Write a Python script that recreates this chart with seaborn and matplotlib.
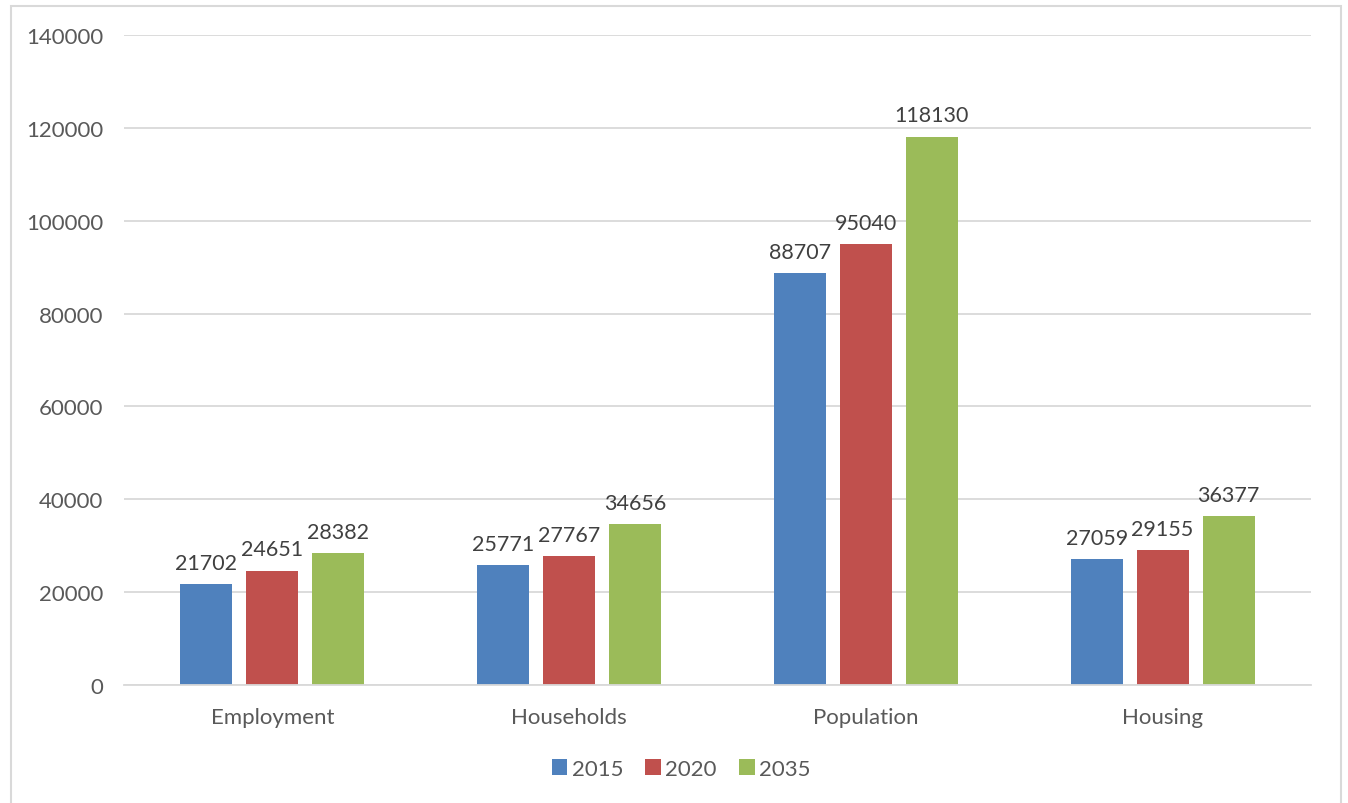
import matplotlib
matplotlib.use("Agg")
import matplotlib.pyplot as plt
import seaborn as sns
import pandas as pd
from matplotlib.patches import Rectangle

categories = ["Employment", "Households", "Population", "Housing"]
years = ["2015", "2020", "2035"]
values_2015 = [21702, 25771, 88707, 27059]
values_2020 = [24651, 27767, 95040, 29155]
values_2035 = [28382, 34656, 118130, 36377]
yticks = [0, 20000, 40000, 60000, 80000, 100000, 120000, 140000]
colors = ["#4F81BD", "#C0504D", "#9BBB59"]

rows = []
for yr, vals in zip(years, [values_2015, values_2020, values_2035]):
    for c, v in zip(categories, vals):
        rows.append({"category": c, "year": yr, "value": v})
df = pd.DataFrame(rows)

sns.set_theme(style="white")
plt.rcParams["font.family"] = ["Lato", "DejaVu Sans"]

fig = plt.figure(figsize=(13.48, 8.04), dpi=100)
ax = fig.add_axes([124 / 1348, 1 - 686 / 804, (1311 - 124) / 1348, (686 - 36) / 804])

sns.barplot(data=df, x="category", y="value", hue="year", order=categories,
            hue_order=years, palette=colors, width=0.667, gap=0.21,
            saturation=1, ax=ax, legend=True, linewidth=0)

ax.set_ylim(0, 140000)
ax.set_xlim(-0.5, 3.5)
ax.set_yticks(yticks)
ax.set_yticklabels([str(t) for t in yticks])
ax.yaxis.grid(True, color="#D9D9D9", linewidth=1.3)
ax.set_axisbelow(True)
for s in ["top", "right", "left"]:
    ax.spines[s].set_visible(False)
ax.spines["bottom"].set_color("#D9D9D9")
ax.spines["bottom"].set_linewidth(1.3)
ax.tick_params(axis="both", length=0, labelsize=16, labelcolor="#595959")
ax.tick_params(axis="x", pad=16)
ax.tick_params(axis="y", pad=15)
ax.set_xlabel("")
ax.set_ylabel("")

for cont in ax.containers:
    for bar in cont:
        h = bar.get_height()
        ax.annotate(f"{int(round(h))}", (bar.get_x() + bar.get_width() / 2, h),
                    xytext=(0, 8), textcoords="offset points", ha="center",
                    va="bottom", fontsize=15.5, color="#404040")

handles, labels = ax.get_legend_handles_labels()
ax.get_legend().remove()
fig.legend(handles, labels, loc="center", bbox_to_anchor=(681 / 1348, 1 - 770 / 804),
           ncol=3, frameon=False, fontsize=16, labelcolor="#595959",
           handlelength=0.7, handleheight=0.7, handletextpad=0.2, columnspacing=1.0)

fig.patches.append(Rectangle((11 / 1348, -0.05), (1341 - 11) / 1348, 1.05 - 7 / 804,
                             transform=fig.transFigure, fill=False,
                             edgecolor="#D9D9D9", linewidth=1.5))

fig.savefig("out.png", dpi=100)
